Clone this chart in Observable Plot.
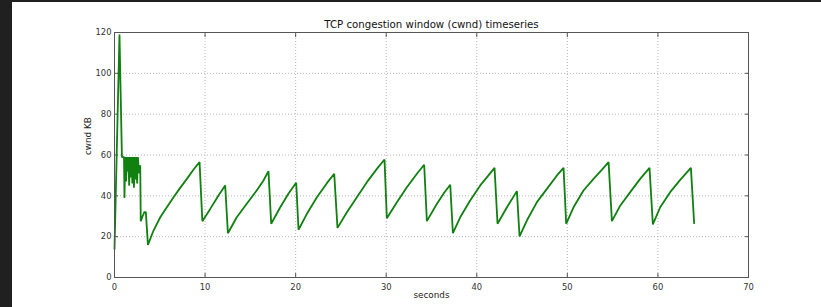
<!DOCTYPE html>
<html>
<head>
<meta charset="utf-8">
<script src="https://cdn.jsdelivr.net/npm/d3@7"></script>
<script src="https://cdn.jsdelivr.net/npm/@observablehq/plot@0.6"></script>
<style>
  html, body { margin: 0; padding: 0; background: #fff; }
  body { width: 821px; height: 307px; position: relative; overflow: hidden; }
  #chart { position: absolute; left: 0; top: 0; }
  .band-left { position: absolute; left: 0; top: 0; width: 12px; height: 307px; background: #202020; }
  .band-top { position: absolute; left: 0; top: 0; width: 821px; height: 2px; background: #202020; }
</style>
</head>
<body>
<div id="chart"></div>
<div class="band-top"></div>
<div class="band-left"></div>
<script>
const title = "TCP congestion window (cwnd) timeseries";
const xLabel = "seconds";
const yLabel = "cwnd KB";
const xTicks = [0, 10, 20, 30, 40, 50, 60, 70];
const yTicks = [0, 20, 40, 60, 80, 100, 120];

const seconds = [
  0, 0.55, 0.82, 1.05, 1.1, 1.18, 1.28, 1.36, 1.45, 1.52, 1.62, 1.7, 1.8, 1.88, 1.97,
  2.05, 2.15, 2.23, 2.32, 2.4, 2.5, 2.58, 2.65, 2.75, 2.84, 2.9, 3.1, 3.3, 3.46, 3.69,
  4.31, 5.05, 5.78, 6.52, 7.25, 7.99, 8.73, 9.39, 9.7,
  10.57, 11.48, 12.22, 12.52,
  13.5, 14.6, 15.7, 16.45, 17.0, 17.3,
  18.3, 19.2, 20.06, 20.32,
  21.24, 22.35, 23.45, 24.26, 24.62,
  25.66, 26.76, 27.87, 28.97, 29.81, 30.07,
  31.18, 32.28, 33.39, 34.19, 34.49,
  35.6, 36.4, 37.07, 37.36,
  38.17, 39.27, 40.38, 41.29, 41.96, 42.29,
  43.33, 44.43, 44.72,
  45.53, 46.64, 47.74, 48.85, 49.58, 49.87,
  50.68, 51.78, 52.89, 53.8, 54.55, 54.92,
  55.85, 56.94, 58.04, 59.07, 59.44,
  60.25, 61.35, 62.46, 63.64, 64.0
];
const cwndKB = [
  14, 119, 59, 59, 39, 59, 47, 59, 52, 59, 45, 59, 49, 59, 46,
  59, 44, 59, 48, 59, 46, 59, 55, 51, 55, 27.6, 30, 32, 32, 16,
  23, 29.5, 34.4, 39.3, 43.9, 48.3, 52.9, 56.5, 27.6,
  33.6, 40.2, 45.1, 21.7,
  29.5, 36.1, 42.6, 47.5, 52.1, 26.3,
  34.4, 41, 46.4, 23.4,
  31.2, 39.3, 46.2, 50.8, 24.3,
  32.0, 39.3, 46.7, 53.2, 57.8, 29.0,
  36.9, 44.2, 50.8, 55.2, 27.6,
  36.1, 41.5, 45.4, 21.7,
  29.5, 37.7, 45.1, 50.0, 53.7, 26.3,
  34.4, 42.3, 20.1,
  27.9, 36.9, 43.4, 50.0, 53.7, 26.3,
  34.4, 42.6, 48.3, 52.7, 56.5, 27.6,
  35.3, 41.8, 48.3, 53.7, 26.0,
  34.4, 41.8, 47.8, 53.7, 26.6
];

const data = seconds.map((t, i) => ({t, v: cwndKB[i]}));
const blank = () => "";

const chart = Plot.plot({
  width: 821,
  height: 307,
  marginLeft: 114,
  marginRight: 73,
  marginTop: 32,
  marginBottom: 30,
  style: {fontFamily: "'DejaVu Sans', sans-serif", fontSize: "8.4px", color: "#333", background: "transparent"},
  x: {domain: [0, 70], ticks: xTicks},
  y: {domain: [0, 120], ticks: yTicks},
  marks: [
    Plot.gridX(xTicks, {stroke: "#b5b5b5", strokeOpacity: 1, strokeDasharray: "1,2"}),
    Plot.gridY(yTicks, {stroke: "#b5b5b5", strokeOpacity: 1, strokeDasharray: "1,2"}),
    Plot.axisX(xTicks, {anchor: "bottom", tickSize: 0, tickPadding: 7, label: null, fill: "#333"}),
    Plot.axisY(yTicks, {anchor: "left", tickSize: 0, tickPadding: 3, label: null, fill: "#333"}),
    Plot.axisX(xTicks, {anchor: "bottom", tickSize: -4, tickFormat: blank, label: null, stroke: "#555"}),
    Plot.axisX(xTicks, {anchor: "top", tickSize: -4, tickFormat: blank, label: null, stroke: "#555"}),
    Plot.axisY(yTicks, {anchor: "left", tickSize: -4, tickFormat: blank, label: null, stroke: "#555"}),
    Plot.axisY(yTicks, {anchor: "right", tickSize: -4, tickFormat: blank, label: null, stroke: "#555"}),
    Plot.line(data, {x: "t", y: "v", stroke: "#108010", strokeWidth: 1.8, strokeLinejoin: "miter"}),
    Plot.frame({stroke: "#555", strokeWidth: 1}),
    Plot.text([title], {frameAnchor: "top", lineAnchor: "middle", dy: -7.5, fontSize: 10.2, fill: "#111"}),
    Plot.text([xLabel], {frameAnchor: "bottom", lineAnchor: "middle", dy: 18, fontSize: 8.8, fill: "#222"}),
    Plot.text([yLabel], {frameAnchor: "left", dx: -26, rotate: -90, fontSize: 8.8, fill: "#222"})
  ]
});
document.getElementById("chart").append(chart);
</script>
</body>
</html>
